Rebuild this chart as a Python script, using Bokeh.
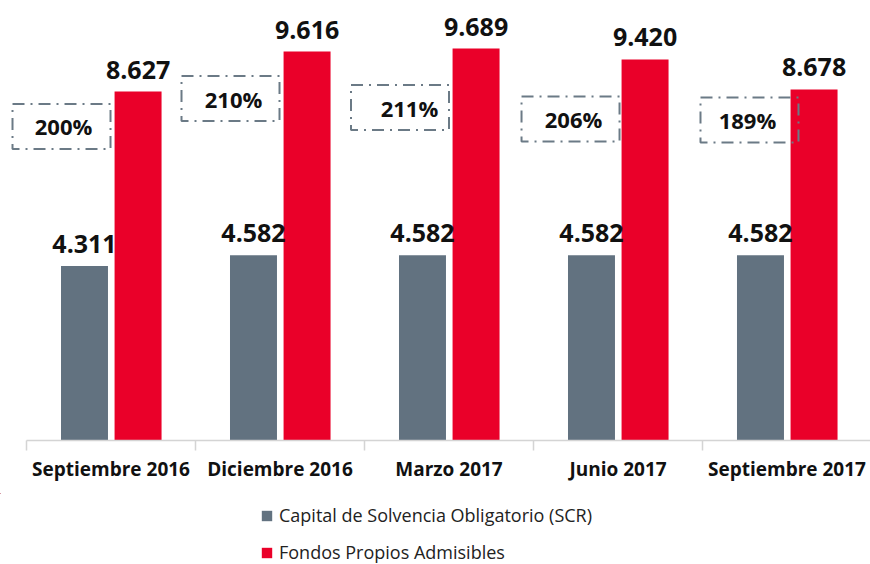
from bokeh.plotting import figure
from bokeh.models import (ColumnDataSource, Range1d, LinearAxis, FixedTicker,
                          Legend, LegendItem)
from bokeh.layouts import column
from bokeh.embed import file_html
from bokeh.resources import INLINE
from bokeh.core.properties import value
from bokeh.transform import dodge

# ---- data ----
categories = ["Septiembre 2016", "Diciembre 2016", "Marzo 2017", "Junio 2017", "Septiembre 2017"]
scr = [4311, 4582, 4582, 4582, 4582]
fpa = [8627, 9616, 9689, 9420, 8678]
ratio_labels = ["200%", "210%", "211%", "206%", "189%"]
series_names = ["Capital de Solvencia Obligatorio (SCR)", "Fondos Propios Admisibles"]

# ---- annotation layout (box positions, not data) ----
box_x = [0.207, 1.207, 2.210, 3.219, 4.278]
box_y = [7763, 8455, 8232, 7948, 7923]
box_text_x = [0.219, 1.225, 2.266, 3.237, 4.266]

GRAY = "#627280"
RED = "#ea0029"
FONT = "Open Sans"

def fmt(v):
    return f"{v:,}".replace(",", ".")

x = [i + 0.5 for i in range(len(categories))]
src = ColumnDataSource(dict(
    x=x, scr=scr, fpa=fpa,
    scr_lbl=[fmt(v) for v in scr], fpa_lbl=[fmt(v) for v in fpa],
))
box_src = ColumnDataSource(dict(bx=box_x, by=box_y, tx=box_text_x, lbl=ratio_labels))

n = len(categories)
p = figure(frame_width=870, frame_height=432, output_backend="svg", toolbar_location=None,
           x_range=Range1d(-0.154, 4.994), y_range=Range1d(0, 10680),
           x_axis_location=None, y_axis_location=None,
           min_border_left=0, min_border_right=0, min_border_top=8, min_border_bottom=53)
p.outline_line_color = None
p.xgrid.visible = False
p.ygrid.visible = False

ticker = FixedTicker(ticks=x, minor_ticks=list(range(n + 1)))
xaxis = LinearAxis(ticker=ticker, bounds=(0, 4.994),
                   major_label_overrides={xi: c for xi, c in zip(x, categories)})
xaxis.axis_line_color = "#d4d4d4"
xaxis.axis_line_width = 1.5
xaxis.major_tick_out = 0
xaxis.major_tick_in = 0
xaxis.minor_tick_out = 10
xaxis.minor_tick_in = 0
xaxis.minor_tick_line_color = "#d4d4d4"
xaxis.minor_tick_line_width = 1.5
xaxis.major_label_text_font = FONT
xaxis.major_label_text_font_style = "bold"
xaxis.major_label_text_font_size = "19px"
xaxis.major_label_text_color = "#111111"
xaxis.major_label_standoff = 5
p.add_layout(xaxis, "below")

r1 = p.vbar(x=dodge("x", -0.157, range=p.x_range), top="scr", width=0.278, bottom=0,
            source=src, fill_color=GRAY, line_color=None)
r2 = p.vbar(x=dodge("x", 0.16, range=p.x_range), top="fpa", width=0.278, bottom=0,
            source=src, fill_color=RED, line_color=None)

p.text(x=dodge("x", -0.157, range=p.x_range), y="scr", text="scr_lbl", source=src,
       text_align="center", text_baseline="bottom", y_offset=-13,
       text_font=value(FONT), text_font_style="bold", text_font_size="25px",
       text_color="#111111")
p.text(x=dodge("x", 0.16, range=p.x_range), y="fpa", text="fpa_lbl", source=src,
       text_align="center", text_baseline="bottom", y_offset=-13,
       text_font=value(FONT), text_font_style="bold", text_font_size="25px",
       text_color="#111111")

p.rect(x="bx", y="by", width=98, height=45, width_units="screen", height_units="screen",
       source=box_src, fill_color=None, line_color="#6b7a86", line_width=2,
       line_dash="12 6 2 6")
p.text(x="tx", y="by", text="lbl", source=box_src, text_align="center",
       text_baseline="middle", text_font=value(FONT), text_font_style="bold",
       text_font_size="22px", text_color="#111111")

# ---- legend panel (legend swatches reference off-view copies of the bars) ----
p2 = figure(width=870, height=71, output_backend="svg", toolbar_location=None,
            x_range=Range1d(100, 101), y_range=Range1d(-2, -1),
            x_axis_location=None, y_axis_location=None,
            min_border_left=0, min_border_right=0, min_border_top=0, min_border_bottom=0)
p2.outline_line_color = None
p2.xgrid.visible = False
p2.ygrid.visible = False
k1 = p2.vbar(x="x", top="scr", width=0.1, source=src, fill_color=GRAY, line_color=None)
k2 = p2.vbar(x="x", top="fpa", width=0.1, source=src, fill_color=RED, line_color=None)
legend = Legend(items=[LegendItem(label=series_names[0], renderers=[k1]),
                       LegendItem(label=series_names[1], renderers=[k2])],
                orientation="vertical", location=(260, 0),
                border_line_color=None, background_fill_alpha=0,
                padding=0, margin=0, spacing=13,
                glyph_width=13, glyph_height=13, label_height=20,
                label_standoff=6,
                label_text_font=FONT, label_text_font_size="18px",
                label_text_color="#222222")
p2.add_layout(legend, "center")

layout = column(p, p2, spacing=0)
open("out.html", "w").write(file_html(layout, INLINE))
